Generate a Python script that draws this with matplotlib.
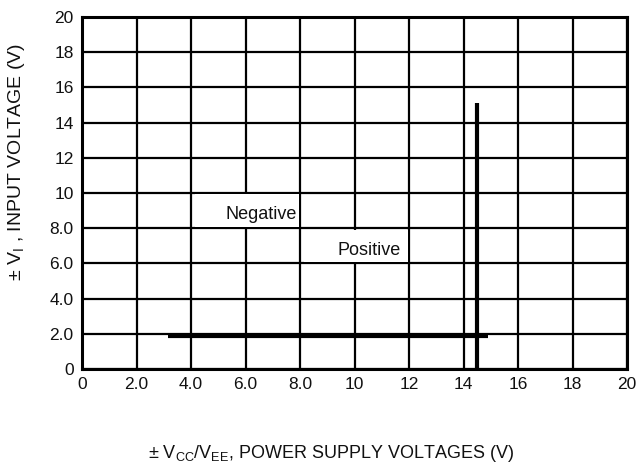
import matplotlib
matplotlib.use("Agg")
import matplotlib.pyplot as plt
from matplotlib.patches import Rectangle

plt.rcParams['font.family'] = ['Liberation Sans', 'DejaVu Sans']
plt.rcParams['mathtext.fontset'] = 'custom'
plt.rcParams['mathtext.rm'] = 'Liberation Sans'

# Data
x_ticks = [0, 2, 4, 6, 8, 10, 12, 14, 16, 18, 20]
x_tick_labels = ["0", "2.0", "4.0", "6.0", "8.0", "10", "12", "14", "16", "18", "20"]
y_ticks = [0, 2, 4, 6, 8, 10, 12, 14, 16, 18, 20]
y_tick_labels = ["0", "2.0", "4.0", "6.0", "8.0", "10", "12", "14", "16", "18", "20"]

negative_x = [3.15, 14.9]   # horizontal line (Negative limit)
negative_y = [1.9, 1.9]
positive_x = [14.5, 14.5]   # vertical line (Positive limit)
positive_y = [0.0, 15.1]

fig = plt.figure(figsize=(6.39, 4.70), dpi=100)
ax = fig.add_axes([82/639, 1-369/470, (627-82)/639, (369-17)/470])

ax.set_xlim(0, 20)
ax.set_ylim(0, 20)
ax.set_xticks(x_ticks)
ax.set_xticklabels(x_tick_labels)
ax.set_yticks(y_ticks)
ax.set_yticklabels(y_tick_labels)
ax.tick_params(length=0, labelsize=12.5, pad=6, colors='#111111')
ax.grid(True, color='black', linewidth=1.6)
ax.set_axisbelow(True)
for s in ax.spines.values():
    s.set_linewidth(2.2)
    s.set_zorder(5)

# white label boxes
ax.add_patch(Rectangle((4.15, 8.08), 3.8, 1.84, facecolor='white', edgecolor='none', zorder=2))
ax.add_patch(Rectangle((8.15, 6.08), 3.8, 1.84, facecolor='white', edgecolor='none', zorder=2))
ax.text(7.87, 8.8, "Negative", ha='right', va='center', fontsize=13, color='#111111', zorder=3)
ax.text(11.7, 6.75, "Positive", ha='right', va='center', fontsize=13, color='#111111', zorder=3)

ax.plot(negative_x, negative_y, color='black', linewidth=3, solid_capstyle='butt', zorder=4)
ax.plot(positive_x, positive_y, color='black', linewidth=3, solid_capstyle='butt', zorder=4)

fig.text(17/639, 1-162/470, r"$\pm$ V$_{\mathrm{I}}$ , INPUT VOLTAGE (V)", rotation=90,
         ha='center', va='center', fontsize=14, color='#111111')
fig.text(331/639, 1-453/470, r"$\pm$ V$_{\mathrm{CC}}$/V$_{\mathrm{EE}}$, POWER SUPPLY VOLTAGES (V)",
         ha='center', va='center', fontsize=13, color='#111111')

fig.savefig("out.png", dpi=100)
